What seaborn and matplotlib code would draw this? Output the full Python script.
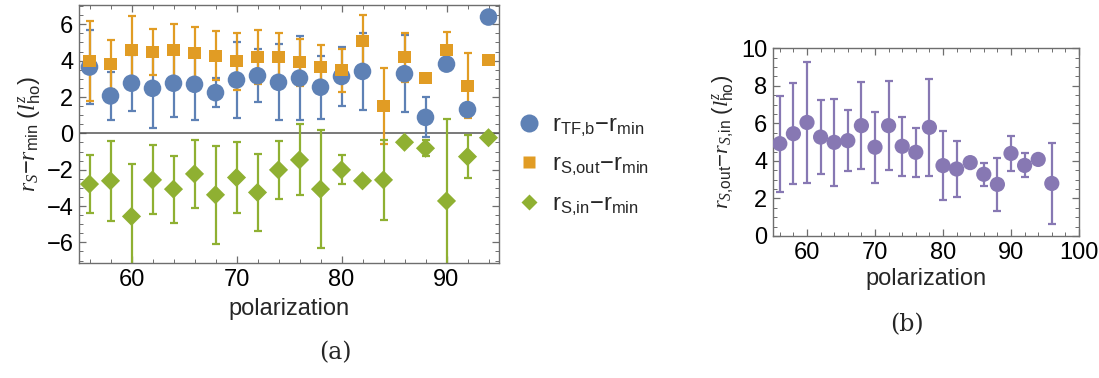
import numpy as np
import pandas as pd
import matplotlib
matplotlib.use("Agg")
import matplotlib.pyplot as plt
from matplotlib.ticker import MultipleLocator
from matplotlib.lines import Line2D
import seaborn as sns

# ---------------- data ----------------
pol_a = [56, 58, 60, 62, 64, 66, 68, 70, 72, 74, 76, 78, 80, 82, 84, 86, 88, 90, 92, 94]
r_tfb = [3.65, 2.06, 2.76, 2.48, 2.76, 2.70, 2.24, 2.94, 3.17, 2.81, 3.04, 2.54, 3.13, 3.41,
         np.nan, 3.28, 0.88, 3.81, 1.31, 6.40]
r_tfb_err = [2.05, 1.30, 1.55, 2.20, 1.85, 1.95, 0.78, 2.10, 1.45, 2.10, 2.30, 1.74, 1.62, 2.10,
             np.nan, 2.13, 1.10, np.nan, np.nan, np.nan]
r_sout = [3.96, 3.81, 4.61, 4.48, 4.57, 4.43, 4.28, 3.96, 4.20, 4.20, 3.91, 3.63, 3.46, 5.07,
          1.50, 4.19, 3.07, 4.60, 2.63, 4.02]
r_sout_err = [2.20, 1.35, 1.85, 1.26, 1.45, 1.40, 1.36, 1.55, 1.50, 1.33, 1.30, 1.25, 1.20, 1.45,
              2.10, 1.35, 0.10, 1.00, 1.80, np.nan]
r_sin = [-2.79, -2.61, -4.57, -2.56, -3.07, -2.23, -3.38, -2.43, -3.25, -2.01, -1.46, -3.07, -2.01,
         -2.61, -2.56, -0.49, -0.82, -3.72, -1.28, -0.24]
r_sin_err = [1.60, 2.20, 2.90, 1.90, 1.85, 1.85, 2.70, 1.95, 2.10, 1.60, 1.95, 3.25, 0.80, np.nan,
             2.20, np.nan, 0.45, 4.50, 1.20, np.nan]

pol_b = [56, 58, 60, 62, 64, 66, 68, 70, 72, 74, 76, 78, 80, 82, 84, 86, 88, 90, 92, 94, 96]
diff = [4.92, 5.45, 6.05, 5.27, 4.99, 5.08, 5.88, 4.73, 5.88, 4.78, 4.46, 5.79, 3.75, 3.57, 3.91,
        3.29, 2.75, 4.40, 3.76, 4.08, 2.80]
diff_err = [2.56, 2.70, 3.20, 1.95, 2.30, 1.62, 2.32, 1.90, 2.37, 1.57, 1.32, 2.58, 1.82, 1.50,
            np.nan, 0.60, 1.40, 0.93, 0.64, np.nan, 2.15]

labels_a = [r"$\mathrm{r_{TF{,}b}{-}r_{min}}$", r"$\mathrm{r_{S{,}out}{-}r_{min}}$",
            r"$\mathrm{r_{S{,}in}{-}r_{min}}$"]

# ---------------- style ----------------
sns.set_style("ticks")
plt.rcParams["font.family"] = ["Liberation Sans", "DejaVu Sans"]
plt.rcParams["mathtext.fontset"] = "custom"
plt.rcParams["mathtext.rm"] = "Liberation Sans"
plt.rcParams["mathtext.it"] = "Liberation Serif:italic"
plt.rcParams["mathtext.default"] = "it"

BLUE = "#5E81B5"
ORANGE = "#E19C24"
GREEN = "#8FB032"
PURPLE = "#8778B3"
FRAME = "#6e6e6e"
FS = 17

fig = plt.figure(figsize=(10.99, 3.78), dpi=100)
ax1 = fig.add_axes([79 / 1099, 1 - 263.3 / 378, (499 - 79) / 1099, (263.3 - 4.7) / 378])
ax2 = fig.add_axes([773 / 1099, 1 - 236 / 378, (1079 - 773) / 1099, (236 - 48.3) / 378])


def style_axes(ax):
    for s in ax.spines.values():
        s.set_color(FRAME)
        s.set_linewidth(1.0)
    ax.tick_params(which="both", direction="in", top=True, right=True, color=FRAME,
                   labelsize=FS, labelcolor="black", pad=4)
    ax.tick_params(which="major", length=5, width=0.9)
    ax.tick_params(which="minor", length=2.8, width=0.7)


def draw_series(ax, x, y, err, color, marker, ms, label):
    x = np.asarray(x, float)
    y = np.asarray(y, float)
    err = np.asarray(err, float)
    m = ~np.isnan(err) & ~np.isnan(y)
    ax.errorbar(x[m], y[m], yerr=err[m], fmt="none", ecolor=color, elinewidth=1.6,
                capsize=2.8, capthick=1.6, zorder=2)
    df = pd.DataFrame({"x": x, "y": y}).dropna()
    sns.scatterplot(data=df, x="x", y="y", ax=ax, color=color, marker=marker, s=ms,
                    edgecolor="none", linewidth=0, label=label, zorder=3, legend=False)


# ---------------- panel (a) ----------------
ax1.axhline(0, color="#555555", lw=1.1, zorder=1)
draw_series(ax1, pol_a, r_tfb, r_tfb_err, BLUE, "o", 160, labels_a[0])
draw_series(ax1, pol_a, r_sout, r_sout_err, ORANGE, "s", 75, labels_a[1])
draw_series(ax1, pol_a, r_sin, r_sin_err, GREEN, "D", 95, labels_a[2])
ax1.set_xlim(55, 95)
ax1.set_ylim(-7.15, 7.08)
ax1.xaxis.set_major_locator(MultipleLocator(10))
ax1.xaxis.set_minor_locator(MultipleLocator(2))
ax1.yaxis.set_major_locator(MultipleLocator(2))
ax1.yaxis.set_minor_locator(MultipleLocator(0.5))
style_axes(ax1)
ax1.set_xlabel("polarization", fontsize=FS, labelpad=5)
ax1.set_ylabel(r"$r_S{-}r_{\mathrm{min}}\ (l^z_{\mathrm{ho}})$", fontsize=FS, labelpad=2)

handles = [
    Line2D([], [], ls="none", marker="o", ms=13, color=BLUE, mec="none"),
    Line2D([], [], ls="none", marker="s", ms=8, color=ORANGE, mec="none"),
    Line2D([], [], ls="none", marker="D", ms=8.5, color=GREEN, mec="none"),
]
fig.legend(handles, labels_a, loc="center left", bbox_to_anchor=(517 / 1099, 1 - 166 / 378),
           frameon=False, fontsize=FS, handlelength=1.0, handletextpad=0.5,
           labelspacing=0.62, borderaxespad=0, borderpad=0)

# ---------------- panel (b) ----------------
draw_series(ax2, pol_b, diff, diff_err, PURPLE, "o", 120, None)
ax2.set_xlim(55, 100)
ax2.set_ylim(0, 10)
ax2.xaxis.set_major_locator(MultipleLocator(10))
ax2.xaxis.set_minor_locator(MultipleLocator(2))
ax2.yaxis.set_major_locator(MultipleLocator(2))
ax2.yaxis.set_minor_locator(MultipleLocator(0.5))
style_axes(ax2)
ax2.set_xlabel("polarization", fontsize=FS, labelpad=3)
ax2.set_ylabel(r"$r_{S{,}\mathrm{out}}{-}r_{S{,}\mathrm{in}}\ (l^z_{\mathrm{ho}})$",
               fontsize=FS - 1, labelpad=3)

fig.text(335 / 1099, 1 - 353 / 378, "(a)", ha="center", va="center", fontsize=FS,
         family="DejaVu Serif")
fig.text(907 / 1099, 1 - 325 / 378, "(b)", ha="center", va="center", fontsize=FS,
         family="DejaVu Serif")

fig.savefig("out.png", dpi=100)
